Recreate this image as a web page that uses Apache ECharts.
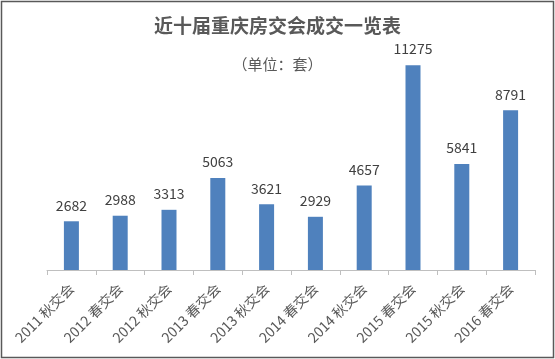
<!DOCTYPE html>
<html>
<head>
<meta charset="utf-8">
<script src="https://cdn.jsdelivr.net/npm/echarts@6/dist/echarts.min.js"></script>
<style>
html,body{margin:0;padding:0;background:#fff;}
#c{width:555px;height:359px;}
</style>
</head>
<body>
<div id="c"></div>
<script>
var categories = ['2011 秋交会','2012 春交会','2012 秋交会','2013 春交会','2013 秋交会','2014 春交会','2014 秋交会','2015 春交会','2015 秋交会','2016 春交会'];
var values = [2682, 2988, 3313, 5063, 3621, 2929, 4657, 11275, 5841, 8791];
var titleText = '近十届重庆房交会成交一览表';
var subtitleText = '（单位：套）';

var font = '"Noto Sans CJK SC", "Noto Sans", sans-serif';
var chart = echarts.init(document.getElementById('c'), null, {renderer: 'canvas'});
chart.setOption({
  animation: false,
  backgroundColor: '#fff',
  title: [
    {text: titleText, left: 'center', top: 11,
     textStyle: {fontFamily: font, fontSize: 19, fontWeight: 'bold', color: '#595959'}},
    {text: subtitleText, left: 'center', top: 52,
     textStyle: {fontFamily: font, fontSize: 15, fontWeight: 'normal', color: '#595959'}}
  ],
  grid: {left: 47, right: 20, top: 52, bottom: 89, containLabel: false},
  xAxis: {
    type: 'category',
    data: categories,
    axisLine: {lineStyle: {color: '#BFBFBF', width: 1}},
    axisTick: {show: true, length: 5, lineStyle: {color: '#BFBFBF'}},
    axisLabel: {rotate: 45, interval: 0, margin: 16, fontFamily: font, fontSize: 14, color: '#595959'}
  },
  yAxis: {
    type: 'value', min: 0, max: 12000, interval: 2000,
    show: false,
    splitLine: {show: false}
  },
  series: [{
    type: 'bar',
    data: values,
    barWidth: 15,
    itemStyle: {color: '#4F81BD'},
    label: {show: true, position: 'top', distance: 9, fontFamily: font, fontSize: 14, color: '#404040'}
  }],
  graphic: [{
    type: 'rect',
    shape: {x: 1.5, y: 1.5, width: 552, height: 356},
    style: {fill: 'none', stroke: '#595959', lineWidth: 1.5},
    silent: true
  }]
});
</script>
</body>
</html>
